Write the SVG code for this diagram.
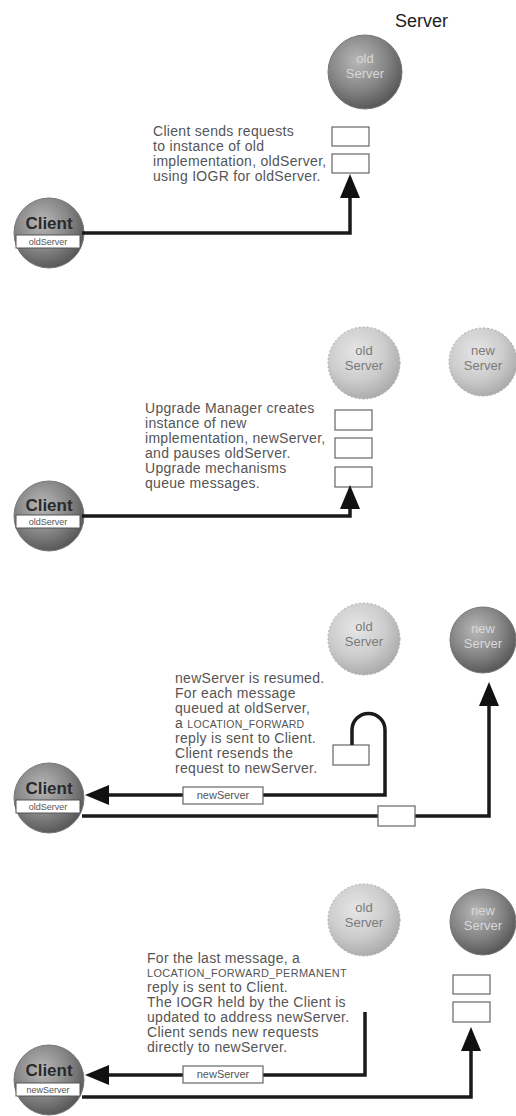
<svg xmlns="http://www.w3.org/2000/svg" width="516" height="1116" viewBox="0 0 516 1116">
<defs>
<radialGradient id="dark" cx="0.4" cy="0.35" r="0.65">
<stop offset="0" stop-color="#b8b8b8"/>
<stop offset="0.6" stop-color="#858585"/>
<stop offset="1" stop-color="#5a5a5a"/>
</radialGradient>
<radialGradient id="light" cx="0.4" cy="0.35" r="0.65">
<stop offset="0" stop-color="#e6e6e6"/>
<stop offset="0.6" stop-color="#cdcdcd"/>
<stop offset="1" stop-color="#adadad"/>
</radialGradient>
<marker id="arr" markerUnits="userSpaceOnUse" markerWidth="24" markerHeight="20" refX="0" refY="10" orient="auto" overflow="visible">
<path d="M0,0 L24,10 L0,20 z" fill="#111"/>
</marker>
<style>
.desc{font-family:"Liberation Sans",Arial,sans-serif;font-size:14px;letter-spacing:0.3px;fill:#555}
.caps{font-size:10.5px}
.title{font-family:"Liberation Sans",Arial,sans-serif;font-size:18px;fill:#222}
.sd{font-family:"Liberation Sans",Arial,sans-serif;font-size:13px;text-anchor:middle;fill:#d8d8d8}
.sl{font-family:"Liberation Sans",Arial,sans-serif;font-size:13px;text-anchor:middle;fill:#7a7a7a}
.dk{fill:url(#dark);stroke:#777;stroke-width:1}
.lt{fill:url(#light);stroke:#aaa;stroke-width:1;stroke-dasharray:2 2}
.cl{font-family:"Liberation Sans",Arial,sans-serif;font-size:17px;font-weight:bold;text-anchor:middle;fill:#2a2a2a}
.lb{fill:#fff;stroke:#555;stroke-width:1}
.lbt{font-family:"Liberation Sans",Arial,sans-serif;font-size:9px;text-anchor:middle;fill:#555}
.msg{fill:#fff;stroke:#666;stroke-width:1.2}
.ln{fill:none;stroke:#1a1a1a;stroke-width:3.5}
</style>
</defs>
<rect width="516" height="1116" fill="#fff"/>
<text class="title" x="395" y="27">Server</text>

<!-- Panel 1 -->
<g id="p1-oldServer"><circle class="dk" cx="365" cy="72" r="37"/><text class="sd" x="365" y="63">old</text><text class="sd" x="365" y="78">Server</text></g>
<g id="p1-text"><text class="desc" x="153" y="136">Client sends requests</text><text class="desc" x="153" y="151">to instance of old</text><text class="desc" x="153" y="166">implementation, oldServer,</text><text class="desc" x="153" y="181">using IOGR for oldServer.</text></g>
<g id="p1-queue"><rect class="msg" x="332" y="127" width="37" height="19"/><rect class="msg" x="332" y="154" width="37" height="19"/></g>
<g id="p1-client"><circle class="dk" cx="49" cy="233" r="35"/><text class="cl" x="49" y="229">Client</text><rect class="lb" x="16" y="235" width="64" height="13"/><text class="lbt" x="48" y="245">oldServer</text></g>

<!-- Panel 2 -->
<g id="p2-oldServer"><circle class="lt" cx="364" cy="363" r="36"/><text class="sl" x="364" y="355">old</text><text class="sl" x="364" y="370">Server</text></g>
<g id="p2-newServer"><circle class="lt" cx="483" cy="362" r="34"/><text class="sl" x="483" y="355">new</text><text class="sl" x="483" y="370">Server</text></g>
<g id="p2-text"><text class="desc" x="145" y="413">Upgrade Manager creates</text><text class="desc" x="145" y="428">instance of new</text><text class="desc" x="145" y="443">implementation, newServer,</text><text class="desc" x="145" y="458">and pauses oldServer.</text><text class="desc" x="145" y="473">Upgrade mechanisms</text><text class="desc" x="145" y="488">queue messages.</text></g>
<g id="p2-queue"><rect class="msg" x="335" y="410" width="37" height="20"/><rect class="msg" x="335" y="438" width="37" height="20"/><rect class="msg" x="335" y="467" width="37" height="20"/></g>
<g id="p2-client"><circle class="dk" cx="49" cy="516" r="35"/><text class="cl" x="49" y="511">Client</text><rect class="lb" x="16" y="515" width="64" height="13"/><text class="lbt" x="48" y="525">oldServer</text></g>

<!-- Panel 3 -->
<g id="p3-oldServer"><circle class="lt" cx="364" cy="639" r="36"/><text class="sl" x="364" y="631">old</text><text class="sl" x="364" y="646">Server</text></g>
<g id="p3-newServer"><circle class="dk" cx="483" cy="640" r="33"/><text class="sd" x="483" y="633">new</text><text class="sd" x="483" y="648">Server</text></g>
<g id="p3-text"><text class="desc" x="175" y="683">newServer is resumed.</text><text class="desc" x="175" y="698">For each message</text><text class="desc" x="175" y="713">queued at oldServer,</text><text class="desc" x="175" y="728">a <tspan class="caps">LOCATION_FORWARD</tspan></text><text class="desc" x="175" y="743">reply is sent to Client.</text><text class="desc" x="175" y="758">Client resends the</text><text class="desc" x="175" y="773">request to newServer.</text></g>
<g id="p3-client"><circle class="dk" cx="49" cy="798" r="35"/><text class="cl" x="49" y="794">Client</text><rect class="lb" x="16" y="800" width="64" height="13"/><text class="lbt" x="48" y="810">oldServer</text></g>

<!-- Panel 4 -->
<g id="p4-oldServer"><circle class="lt" cx="364" cy="920" r="36"/><text class="sl" x="364" y="912">old</text><text class="sl" x="364" y="927">Server</text></g>
<g id="p4-newServer"><circle class="dk" cx="483" cy="922" r="33"/><text class="sd" x="483" y="915">new</text><text class="sd" x="483" y="930">Server</text></g>
<g id="p4-text"><text class="desc" x="147" y="963">For the last message, a</text><text class="desc caps" x="147" y="977" textLength="200" lengthAdjust="spacingAndGlyphs">LOCATION_FORWARD_PERMANENT</text><text class="desc" x="147" y="992">reply is sent to Client.</text><text class="desc" x="147" y="1007">The IOGR held by the Client is</text><text class="desc" x="147" y="1022">updated to address newServer.</text><text class="desc" x="147" y="1037">Client sends new requests</text><text class="desc" x="147" y="1052">directly to newServer.</text></g>
<g id="p4-queue"><rect class="msg" x="453" y="975" width="37" height="19"/><rect class="msg" x="453" y="1002" width="37" height="20"/></g>
<g id="p4-client"><circle class="dk" cx="49" cy="1080" r="35"/><text class="cl" x="49" y="1076">Client</text><rect class="lb" x="16" y="1083" width="64" height="13"/><text class="lbt" x="48" y="1093">newServer</text></g>

<g id="connectors">
<path class="ln" d="M82,233 H350 V198" marker-end="url(#arr)"/>
<path class="ln" d="M82,516 H350 V509" marker-end="url(#arr)"/>
<rect class="msg" x="333" y="745" width="36" height="20"/>
<path class="ln" d="M352,745 V730 A16.5,16.5 0 0 1 385,730 V795 H109" marker-end="url(#arr)"/>
<path class="ln" d="M82,816 H489 V706" marker-end="url(#arr)"/>
<path class="ln" d="M365,1012 V1075 H109" marker-end="url(#arr)"/>
<path class="ln" d="M82,1097 H471 V1051" marker-end="url(#arr)"/>
<g id="labels">
<rect class="msg" x="183" y="787" width="80" height="17"/><text class="lbt" x="223" y="799" style="font-size:11px">newServer</text>
<rect class="msg" x="378" y="806" width="37" height="20"/>
<rect class="msg" x="183" y="1066" width="80" height="17"/><text class="lbt" x="223" y="1078" style="font-size:11px">newServer</text>
</g>
</g>
</svg>
